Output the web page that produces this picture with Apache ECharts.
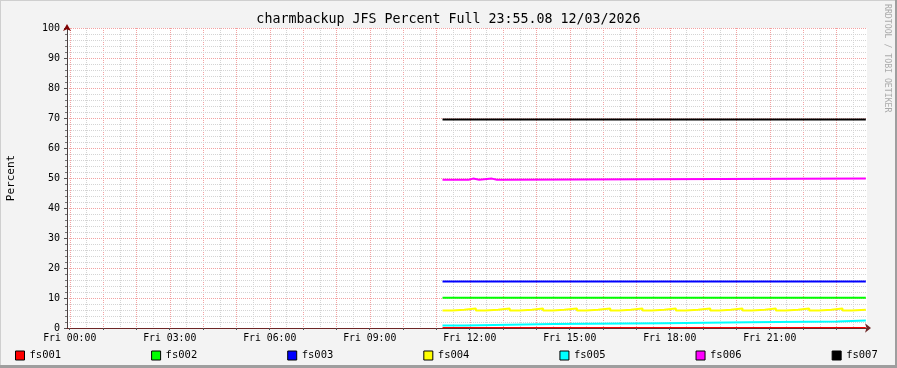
<!DOCTYPE html>
<html><head><meta charset="utf-8">
<script src="https://cdn.jsdelivr.net/npm/echarts@6/dist/echarts.min.js"></script>
<style>html,body{margin:0;padding:0;background:#f3f3f3}#c{width:897px;height:368px}</style>
</head><body><div id="c"></div>
<script>
// ---------- data ----------
const titleText = 'charmbackup JFS Percent Full 23:55.08 12/03/2026';
const yAxisName = 'Percent';
const creditText = 'RRDTOOL / TOBI OETIKER';
const dayName = 'Fri';
const windowEnd = '23:55';           // right edge of the 24h window
const xLabelHours = [0, 3, 6, 9, 12, 15, 18, 21];
const majorGridHours = [0,1,2,3,4,5,6,7,8,9,10,11,12,13,14,15,16,17,18,19,20,21,22,23];
const minorGridHours = [0.5,1.5,2.5,3.5,4.5,5.5,6.5,7.5,8.5,9.5,10.5,11.5,12.5,13.5,14.5,15.5,16.5,17.5,18.5,19.5,20.5,21.5,22.5,23.5];
const seriesNames = ['fs001','fs002','fs003','fs004','fs005','fs006','fs007'];
const seriesColors = ['#FF0000','#00FF00','#0000FF','#FFFF00','#00FFFF','#FF00FF','#000000'];

const fs001 = [['11:11',0],['23:53',0]];
const fs002 = [['11:11',10.1],['23:53',10.1]];
const fs003 = [['11:11',15.5],['23:53',15.5]];
const fs004 = [
  ['11:11',5.8],['11:29',6.1],['11:50',6.5],
  ['12:11',5.8],['12:28',6.1],['12:51',6.5],
  ['13:12',5.8],['13:30',6.1],['13:52',6.5],
  ['14:12',5.8],['14:30',6.1],['14:50',6.5],
  ['15:13',5.8],['15:30',6.1],['15:51',6.5],
  ['16:13',5.8],['16:30',6.1],['16:50',6.5],
  ['17:11',5.8],['17:28',6.1],['17:50',6.5],
  ['18:11',5.8],['18:29',6.1],['18:51',6.5],
  ['19:13',5.8],['19:30',6.1],['19:50',6.5],
  ['20:11',5.8],['20:28',6.1],['20:51',6.5],
  ['21:11',5.8],['21:29',6.1],['21:51',6.5],
  ['22:11',5.8],['22:29',6.1],['22:51',6.5],
  ['23:11',5.8],['23:28',6.1],['23:53',6.1]
];
const fs005 = [['11:11',0.8],['11:50',1.3],['14:31',1.6],['17:50',1.9],['20:22',2.2],['23:02',2.5],['23:53',2.5]];
const fs006 = [['11:11',49.4],['11:58',49.8],['12:06',49.4],['12:17',49.8],['12:40',49.4],['12:49',49.8],['12:51',49.4],['13:00',49.8],['23:53',49.8]];
const fs007 = [['11:11',69.5],['23:53',69.5]];
const seriesData = [fs001, fs002, fs003, fs004, fs005, fs006, fs007];

// ---------- helpers ----------
function toHours(s){ const p = s.split(':'); return +p[0] + (+p[1])/60; }
const xMax = toHours(windowEnd) + 5/3600;
const xMin = xMax - 24;
const Y_MIN = 0, Y_MAX = 100;
const pad = n => (n < 10 ? '0' : '') + n;
const FONT = 'DejaVu Sans Mono';
const GRID_GREY = '#d4d4d4';
const GRID_RED = '#f3a2a2';

function gridSeries(hours, color, z) {
  return {
    type: 'custom', coordinateSystem: 'cartesian2d', xAxisIndex: 0, yAxisIndex: 0,
    silent: true, z: z, animation: false, clip: false,
    encode: {x: 0, y: 1},
    data: hours.map(h => [h, Y_MIN]),
    renderItem: function (params, api) {
      const top = api.coord([api.value(0), Y_MAX]);
      const bot = api.coord([api.value(0), Y_MIN]);
      const x = Math.round(top[0]) + 0.5;
      return {
        type: 'line', silent: true,
        shape: {x1: x, y1: top[1], x2: x, y2: bot[1]},
        style: {stroke: color, lineWidth: 1, lineDash: [1, 1], fill: null}
      };
    }
  };
}

const dataSeries = seriesNames.map((name, i) => ({
  name, type: 'line', step: 'end', symbol: 'none', showSymbol: false,
  xAxisIndex: 0, yAxisIndex: 0,
  data: seriesData[i].map(d => [toHours(d[0]), d[1]]),
  lineStyle: {color: seriesColors[i], width: 2},
  itemStyle: {color: seriesColors[i], borderColor: '#000', borderWidth: 1},
  z: 4
}));

const chart = echarts.init(document.getElementById('c'), null, {renderer: 'canvas'});
chart.setOption({
  animation: false,
  backgroundColor: '#f3f3f3',
  title: {
    text: titleText, left: 'center', top: 8,
    textStyle: {fontFamily: FONT, fontSize: 13.3, fontWeight: 'normal', color: '#000'}
  },
  legend: {
    data: seriesNames, left: 10, top: 345, icon: 'rect',
    itemWidth: 9, itemHeight: 9, itemGap: 90,
    itemStyle: {borderColor: '#000', borderWidth: 1},
    textStyle: {fontFamily: FONT, fontSize: 10.5, color: '#000'},
    selectedMode: false
  },
  grid: {left: 67, top: 28, width: 800, height: 300, containLabel: false, outerBoundsMode: 'none', show: true, backgroundColor: '#fff', borderWidth: 0},
  xAxis: [{
    type: 'value', min: xMin, max: xMax, position: 'bottom',
    axisLine: {show: true, onZero: false, lineStyle: {color: '#6e2626', width: 1}, symbol: ['none','arrow'], symbolSize: [7,6], symbolOffset: [0,4]},
    axisTick: {show: true, length: 2, interval: 0, customValues: majorGridHours, lineStyle: {color: '#555'}},
    axisLabel: {customValues: xLabelHours, interval: 0, formatter: v => dayName + ' ' + pad(Math.round(v)) + ':00', fontFamily: FONT, fontSize: 9.8, color: '#000', margin: 5},
    splitLine: {show: false},
    z: 5
  }],
  yAxis: [{
    type: 'value', min: Y_MIN, max: Y_MAX, interval: 10, position: 'left',
    name: yAxisName, nameLocation: 'middle', nameRotate: 90, nameGap: 50,
    nameTextStyle: {fontFamily: FONT, fontSize: 11, color: '#000'},
    axisLine: {show: true, onZero: false, lineStyle: {color: '#4a4040', width: 1}},
    axisTick: {show: true, length: 3, lineStyle: {color: '#555'}},
    minorTick: {show: true, splitNumber: 5, length: 2, lineStyle: {color: '#777'}},
    axisLabel: {fontFamily: FONT, fontSize: 10, color: '#000', margin: 7},
    splitLine: {show: true, lineStyle: {color: GRID_RED, type: [1,1], width: 1}},
    minorSplitLine: {show: true, lineStyle: {color: GRID_GREY, type: [1,1], width: 1}},
    z: 3
  },{
    type: 'value', min: Y_MIN, max: Y_MAX, position: 'left',
    axisLine: {show: true, onZero: false, lineStyle: {color: '#7F0000', opacity: 0}, symbol: ['none','arrow'], symbolSize: [6,7], symbolOffset: [0,4]},
    axisTick: {show: false}, axisLabel: {show: false}, splitLine: {show: false},
    z: 5
  }],
  graphic: [
    {type: 'text', left: 883, top: 4, rotation: -Math.PI/2, originX: 0, originY: 0,
     style: {text: creditText, fontFamily: FONT, fontSize: 8.2, fill: '#aaaaaa'}},
    {type: 'rect', left: 0, top: 0, shape: {width: 897, height: 1}, style: {fill: '#cfcfcf'}, z: 100},
    {type: 'rect', left: 0, top: 0, shape: {width: 1, height: 368}, style: {fill: '#cfcfcf'}, z: 100},
    {type: 'rect', left: 0, top: 365, shape: {width: 897, height: 3}, style: {fill: '#9e9e9e'}, z: 100},
    {type: 'rect', left: 895, top: 0, shape: {width: 2, height: 368}, style: {fill: '#9e9e9e'}, z: 100}
  ],
  series: [gridSeries(minorGridHours, GRID_GREY, 1), gridSeries(majorGridHours, GRID_RED, 2)].concat(dataSeries)
});
</script></body></html>
